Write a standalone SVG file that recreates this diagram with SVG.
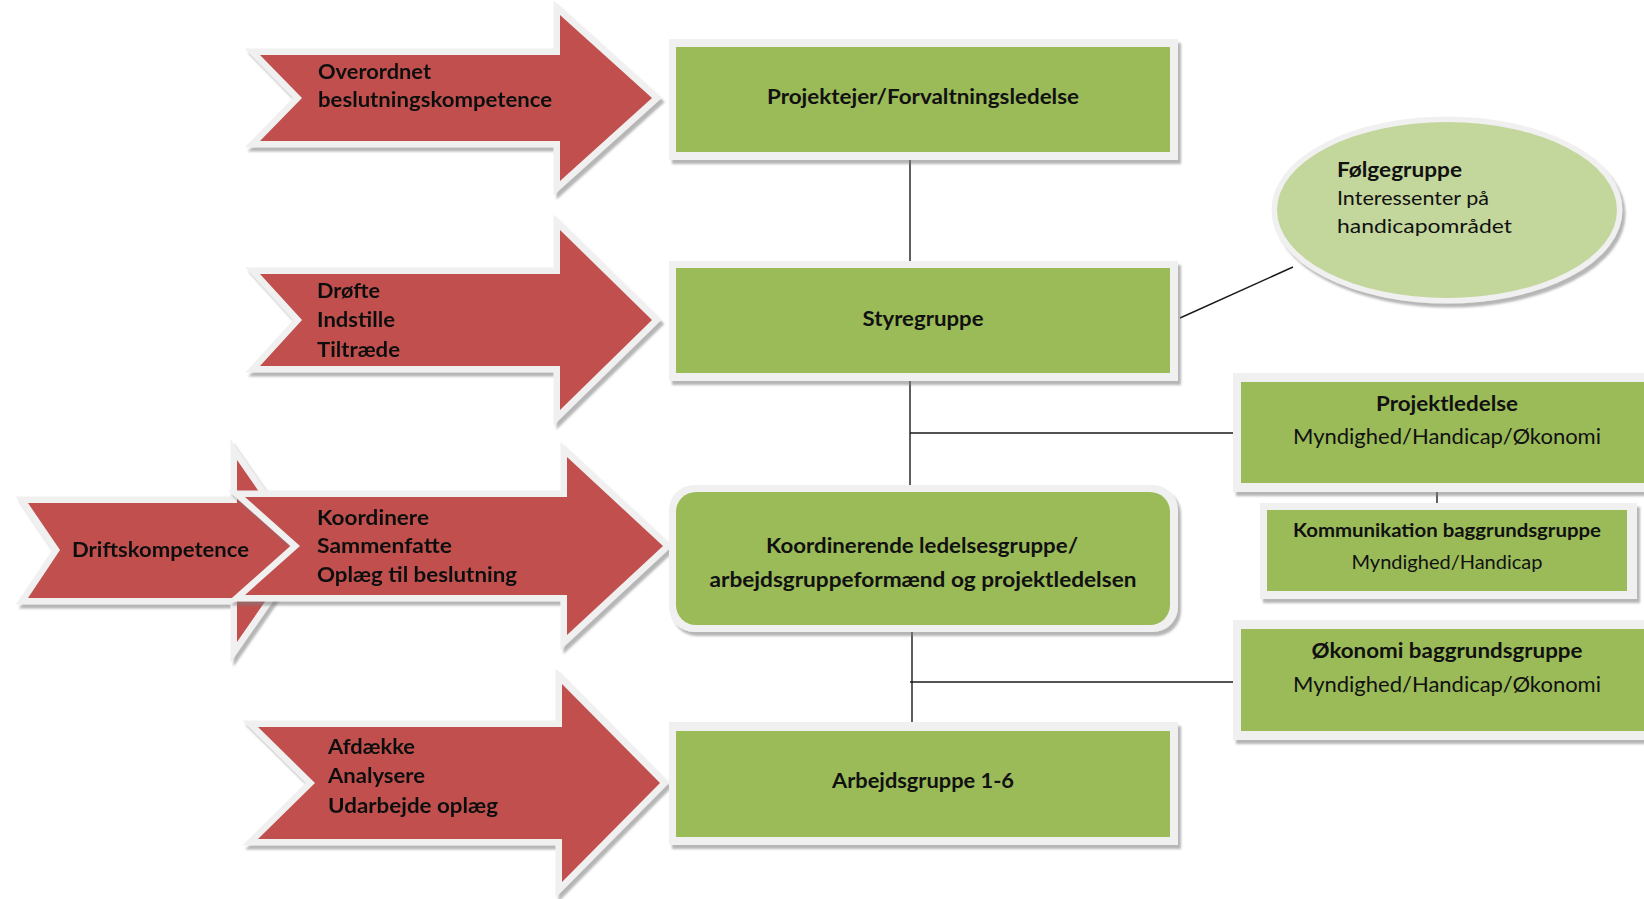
<svg xmlns="http://www.w3.org/2000/svg" width="1644" height="899" viewBox="0 0 1644 899">
<defs>
<filter id="sh" x="-10%" y="-20%" width="120%" height="140%">
<feDropShadow dx="3" dy="4" stdDeviation="1.2" flood-color="#7a7a7a" flood-opacity="0.55"/>
</filter>
<style>
.arrow{fill:#c0504d;stroke:#f0f0f0;stroke-width:13;paint-order:stroke;stroke-linejoin:miter;stroke-miterlimit:6}
.frame{fill:#f0f0f0}
.green{fill:#9bbb59}
.lt{fill:#c3d69b;stroke:#f0f0f0;stroke-width:11;paint-order:stroke}
.t{font-family:Lato,"Open Sans","Liberation Sans",sans-serif;fill:#111}
.b{font-weight:bold}
.c{text-anchor:middle}
.ln{stroke:#1a1a1a;stroke-width:1.4;fill:none}
</style>
</defs>
<rect width="1644" height="899" fill="#ffffff"/>

<g id="connectors">
<line class="ln" x1="910" y1="160" x2="910" y2="262"/>
<line class="ln" x1="910" y1="380" x2="910" y2="486"/>
<line class="ln" x1="910" y1="433" x2="1233" y2="433"/>
<line class="ln" x1="1180" y1="318" x2="1293" y2="267"/>
<line class="ln" x1="912" y1="632" x2="912" y2="722"/>
<line class="ln" x1="910" y1="682" x2="1233" y2="682"/>
<line class="ln" x1="1437" y1="492" x2="1437" y2="510"/>
</g>

<g id="arrow-overordnet" filter="url(#sh)">
<polygon class="arrow" points="260,55 560,55 560,15 652,98 560,181 560,141 260,141 302,98"/>
<text class="t b" x="318" y="79" font-size="20" textLength="113" lengthAdjust="spacingAndGlyphs">Overordnet</text>
<text class="t b" x="318" y="107" font-size="20" textLength="234" lengthAdjust="spacingAndGlyphs">beslutningskompetence</text>
</g>

<g id="arrow-droefte" filter="url(#sh)">
<polygon class="arrow" points="260,274 560,274 560,230 652,320 560,410 560,366 260,366 302,320"/>
<text class="t b" x="317" y="298" font-size="20" textLength="63" lengthAdjust="spacingAndGlyphs">Drøfte</text>
<text class="t b" x="317" y="327" font-size="20" textLength="78" lengthAdjust="spacingAndGlyphs">Indstille</text>
<text class="t b" x="317" y="357" font-size="20" textLength="83" lengthAdjust="spacingAndGlyphs">Tiltræde</text>
</g>

<g id="arrow-drift" filter="url(#sh)">
<polygon class="arrow" points="28,503 237,503 237,460 300,551 237,642 237,598 28,598 60,550"/>
<text class="t b" x="72" y="557" font-size="20" textLength="177" lengthAdjust="spacingAndGlyphs">Driftskompetence</text>
</g>

<g id="arrow-koordinere" filter="url(#sh)">
<polygon class="arrow" points="245,497 567,497 567,457 663,546 567,635 567,595 245,595 300,546"/>
<text class="t b" x="317" y="525" font-size="20" textLength="112" lengthAdjust="spacingAndGlyphs">Koordinere</text>
<text class="t b" x="317" y="553" font-size="20" textLength="135" lengthAdjust="spacingAndGlyphs">Sammenfatte</text>
<text class="t b" x="317" y="582" font-size="20" textLength="200" lengthAdjust="spacingAndGlyphs">Oplæg til beslutning</text>
</g>

<g id="arrow-afdaekke" filter="url(#sh)">
<polygon class="arrow" points="258,727 562,727 562,684 660,783 562,882 562,839 258,839 315,783"/>
<text class="t b" x="328" y="754" font-size="20" textLength="87" lengthAdjust="spacingAndGlyphs">Afdække</text>
<text class="t b" x="328" y="783" font-size="20" textLength="97" lengthAdjust="spacingAndGlyphs">Analysere</text>
<text class="t b" x="328" y="813" font-size="20" textLength="170" lengthAdjust="spacingAndGlyphs">Udarbejde oplæg</text>
</g>

<g id="node-projektejer">
<g filter="url(#sh)">
<rect class="frame" x="669" y="39" width="509" height="121"/>
</g>
<rect class="green" x="676" y="47" width="494" height="105"/>
<text class="t b c" x="923" y="104" font-size="20" textLength="312" lengthAdjust="spacingAndGlyphs">Projektejer/Forvaltningsledelse</text>
</g>

<g id="node-styregruppe">
<g filter="url(#sh)">
<rect class="frame" x="669" y="261" width="509" height="120"/>
</g>
<rect class="green" x="676" y="268" width="494" height="105"/>
<text class="t b c" x="923" y="326" font-size="20" textLength="121" lengthAdjust="spacingAndGlyphs">Styregruppe</text>
</g>

<g id="node-koordinerende">
<g filter="url(#sh)">
<rect class="frame" x="669" y="485" width="509" height="147" rx="25"/>
</g>
<rect class="green" x="676" y="492" width="494" height="133" rx="20"/>
<text class="t b c" x="922" y="553" font-size="20" textLength="312" lengthAdjust="spacingAndGlyphs">Koordinerende ledelsesgruppe/</text>
<text class="t b c" x="923" y="587" font-size="20" textLength="427" lengthAdjust="spacingAndGlyphs">arbejdsgruppeformænd og projektledelsen</text>
</g>

<g id="node-arbejdsgruppe">
<g filter="url(#sh)">
<rect class="frame" x="669" y="722" width="509" height="123"/>
</g>
<rect class="green" x="676" y="731" width="494" height="106"/>
<text class="t b c" x="923" y="788" font-size="20" textLength="182" lengthAdjust="spacingAndGlyphs">Arbejdsgruppe 1-6</text>
</g>

<g id="node-foelgegruppe">
<g filter="url(#sh)">
<ellipse class="lt" cx="1447" cy="210" rx="170" ry="88"/>
</g>
<text class="t b" x="1337" y="177" font-size="20" textLength="125" lengthAdjust="spacingAndGlyphs">Følgegruppe</text>
<text class="t" x="1337" y="205" font-size="20" textLength="152" lengthAdjust="spacingAndGlyphs">Interessenter på</text>
<text class="t" x="1337" y="233" font-size="20" textLength="175" lengthAdjust="spacingAndGlyphs">handicapområdet</text>
</g>

<g id="node-projektledelse">
<g filter="url(#sh)">
<rect class="frame" x="1233" y="373" width="420" height="119"/>
</g>
<rect class="green" x="1241" y="382" width="412" height="101"/>
<text class="t b c" x="1447" y="411" font-size="20" textLength="142" lengthAdjust="spacingAndGlyphs">Projektledelse</text>
<text class="t c" x="1447" y="444" font-size="22" textLength="308" lengthAdjust="spacingAndGlyphs">Myndighed/Handicap/Økonomi</text>
</g>

<g id="node-kommunikation">
<g filter="url(#sh)">
<rect class="frame" x="1260" y="503" width="377" height="96"/>
</g>
<rect class="green" x="1267" y="510" width="360" height="81"/>
<text class="t b c" x="1447" y="537" font-size="19" textLength="308" lengthAdjust="spacingAndGlyphs">Kommunikation baggrundsgruppe</text>
<text class="t c" x="1447" y="569" font-size="19" textLength="191" lengthAdjust="spacingAndGlyphs">Myndighed/Handicap</text>
</g>

<g id="node-oekonomi">
<g filter="url(#sh)">
<rect class="frame" x="1233" y="620" width="420" height="120"/>
</g>
<rect class="green" x="1241" y="629" width="412" height="102"/>
<text class="t b c" x="1447" y="658" font-size="20" textLength="271" lengthAdjust="spacingAndGlyphs">Økonomi baggrundsgruppe</text>
<text class="t c" x="1447" y="692" font-size="22" textLength="308" lengthAdjust="spacingAndGlyphs">Myndighed/Handicap/Økonomi</text>
</g>
</svg>
